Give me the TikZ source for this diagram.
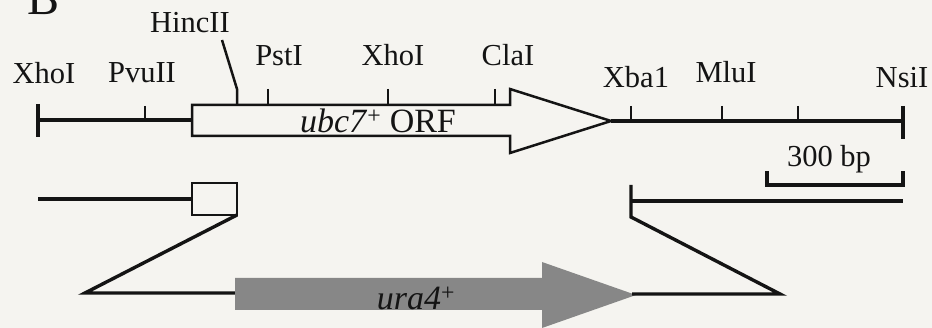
\documentclass[tikz,border=0pt]{standalone}
\usepackage{fontspec}
\setmainfont{Liberation Serif}
\definecolor{bgc}{RGB}{245,244,240}
\definecolor{arrowgray}{RGB}{135,135,135}
\definecolor{ink}{RGB}{20,20,20}
\begin{document}
\begin{tikzpicture}[x=1pt,y=-1pt,
  mainline/.style={draw=ink,line width=3.4pt},
  thinline/.style={draw=ink,line width=2.5pt},
  scalebar/.style={draw=ink,line width=4pt},
  lbl/.style={anchor=base,inner sep=0pt,text=ink,font=\fontsize{30.5}{34}\selectfont},
  genelbl/.style={anchor=base,inner sep=0pt,text=ink,font=\fontsize{34}{38}\selectfont},
  biglbl/.style={anchor=base west,inner sep=0pt,text=ink,font=\fontsize{48}{52}\selectfont}]
\fill[bgc] (0,0) rectangle (932,328);
\useasboundingbox (0,0) rectangle (932,328);
% panel letter
\node[biglbl] (B) at (27,15) {B};
% ---- top map ----
\coordinate (L0) at (38,120);
\coordinate (Lbox) at (192,120);
\draw[mainline] (L0) -- (Lbox);
\draw[mainline] (38,104) -- (38,137);
\draw[thinline] (145,106) -- (145,120);
\draw[thinline,line join=miter] (192,105) -- (510,105) -- (510,89) -- (611,121) -- (510,153) -- (510,136) -- (192,136) -- cycle;
\coordinate (tip) at (611,121);
\coordinate (R0) at (903,121);
\draw[mainline] (tip) -- (R0);
\draw[mainline] (903,106) -- (903,139);
\foreach \x in {631,722,798} \draw[thinline] (\x,106) -- (\x,121);
\foreach \x in {268,388,495} \draw[thinline] (\x,89) -- (\x,105);
\draw[thinline] (237,105) -- (237,89) -- (222,40);
% labels
\node[lbl] (xho1) at (44,84) {XhoI};
\node[lbl] (pvu) at (142,83) {PvuII};
\node[lbl] (hinc) at (190,33) {HincII};
\node[lbl] (pst) at (279,66) {PstI};
\node[lbl] (xho2) at (393,66) {XhoI};
\node[lbl] (cla) at (508,66) {ClaI};
\node[lbl] (xba) at (636,88) {Xba1};
\node[lbl] (mlu) at (726,83) {MluI};
\node[lbl] (nsi) at (902,88) {NsiI};
\node[genelbl] (orf) at (378,133) {\textit{ubc7}\textsuperscript{+} ORF};
% scale bar
\draw[scalebar] (767,171) -- (767,185) -- (903,185) -- (903,171);
\node[lbl] (bp) at (829,167) {300 bp};
% ---- bottom construct ----
\draw[mainline] (38,199) -- (192,199);
\draw[thinline] (192,183) rectangle (237,215);
\draw[mainline,line join=miter] (237,215) -- (85,293) -- (237,293);
\fill[arrowgray] (235,278) -- (542,278) -- (542,262) -- (636,295) -- (542,328) -- (542,310) -- (235,310) -- cycle;
\node[genelbl] (ura) at (416,310) {\textit{ura4}\textsuperscript{+}};
\draw[mainline,line join=miter] (632,294) -- (780,294) -- (631,217) -- (631,185);
\draw[mainline] (631,201) -- (903,201);
\end{tikzpicture}
\end{document}
